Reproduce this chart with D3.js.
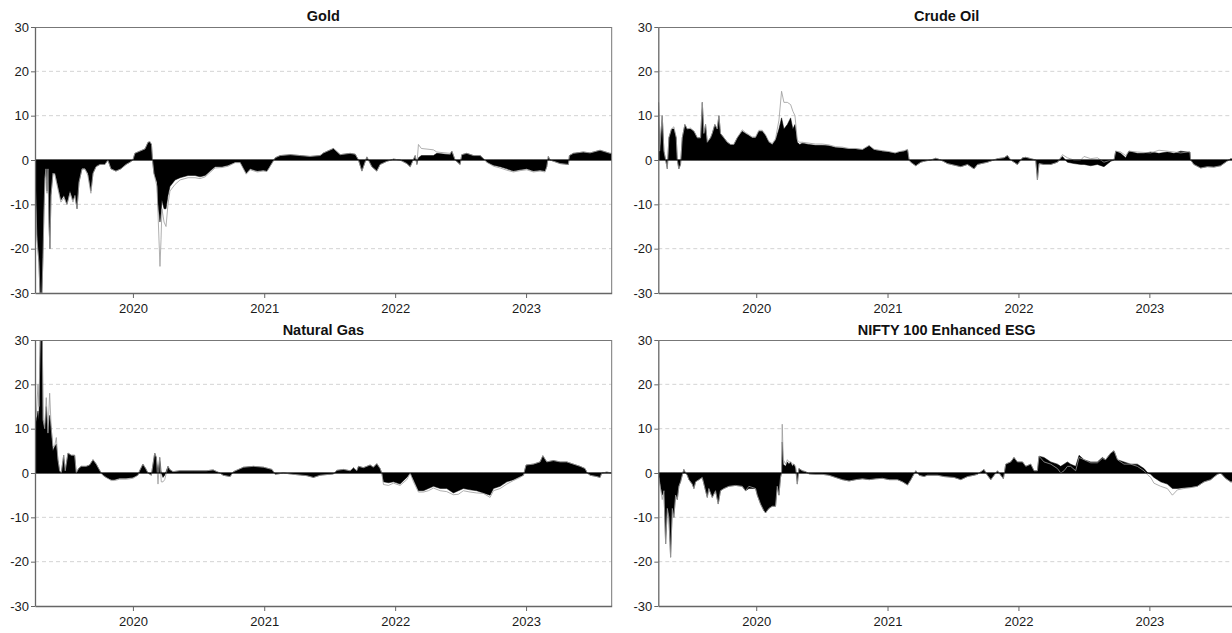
<!DOCTYPE html>
<html>
<head>
<meta charset="utf-8">
<script src="https://cdn.jsdelivr.net/npm/d3@7"></script>
<style>
body{margin:0;background:#fff}
text{font-family:Arial,"Liberation Sans",sans-serif}
</style>
</head>
<body>
<script>
var yearTicks = [2020, 2021, 2022, 2023];
var yTicks = [-30, -20, -10, 0, 10, 20, 30];
var gridTicks = [-20, -10, 10, 20];
var titles = ["Gold", "Crude Oil", "Natural Gas", "NIFTY 100 Enhanced ESG"];
var startYear = 2019.252, endYear = 2023.654;

// rows: [decimal year, filled value, outline value]
var gold = [
[2019.252,-3,-3],[2019.267,-17,-18],[2019.282,-23,-23],[2019.290,-30,-30],[2019.305,-30,-30],
[2019.313,-21,-22],[2019.321,-10,-11],[2019.328,-4,-4],[2019.336,-2,-2],[2019.344,-7,-7.5],
[2019.351,-2,-2],[2019.359,-14,-15],[2019.366,-20,-20],[2019.374,-8,-8],[2019.389,-3,-3],
[2019.405,-3,-3.5],[2019.427,-6,-6.5],[2019.450,-9,-9.5],[2019.473,-8,-8.5],[2019.496,-10,-10],
[2019.519,-7,-7.5],[2019.542,-9,-9.5],[2019.557,-8,-8],[2019.573,-11,-11],[2019.588,-5,-5],
[2019.611,-2,-2],[2019.634,-2,-2],[2019.656,-3,-3.5],[2019.679,-7,-7.5],[2019.695,-3,-3],
[2019.718,-1.5,-1.5],[2019.748,-1,-1],[2019.786,-1,-1],[2019.809,0,0],[2019.832,-2,-2],
[2019.870,-2.5,-2.5],[2019.908,-2,-2],[2019.947,-1,-1],[2019.977,-0.5,-0.5],[2020.000,0,0],
[2020.015,1.5,1.5],[2020.053,2,2],[2020.092,2.5,2.5],[2020.115,4,4],[2020.130,4,4.2],
[2020.141,3.5,3.5],[2020.149,0,0],[2020.160,-3,-3],[2020.183,-5,-6],[2020.191,-10,-12],
[2020.206,-14,-24],[2020.214,-12,-18],[2020.221,-9,-11],[2020.237,-11,-14],[2020.252,-11,-15],
[2020.267,-8,-10],[2020.282,-6,-7],[2020.321,-4.5,-5.5],[2020.359,-4,-4.5],[2020.420,-3.5,-4],
[2020.473,-3.5,-4],[2020.511,-3.8,-4.2],[2020.550,-3.5,-3.8],[2020.588,-2.5,-2.8],[2020.626,-1.5,-1.8],
[2020.679,-1.5,-1.7],[2020.725,-1.2,-1.4],[2020.779,-0.5,-0.6],[2020.817,-0.5,-0.6],[2020.863,-3,-3.2],
[2020.893,-2,-2.2],[2020.947,-2.5,-2.7],[2020.992,-2.3,-2.5],[2021.021,-2.5,-2.6],[2021.084,0.5,0.5],
[2021.122,1,1],[2021.200,1.2,1.2],[2021.275,1,1],[2021.350,0.8,0.8],[2021.427,1,1],
[2021.453,1.6,1.6],[2021.529,2.6,2.6],[2021.580,1.2,1.2],[2021.656,1.5,1.5],[2021.695,1.3,1.3],
[2021.720,0,0],[2021.746,-2.5,-2.5],[2021.784,0.7,0.7],[2021.822,-1.5,-1.5],[2021.860,-2.5,-2.5],
[2021.885,-1,-1],[2021.937,-0.3,-0.3],[2021.987,0.2,0.2],[2022.038,0,0],[2022.089,-0.8,-0.8],
[2022.115,-1.5,-1.5],[2022.153,1,1],[2022.166,-1,-1],[2022.178,0.5,3.5],[2022.200,1,2.6],
[2022.292,1,2.3],[2022.318,1.5,1.8],[2022.420,1.2,1.5],[2022.433,2,2],[2022.458,0,0],
[2022.496,-1,-1],[2022.509,1.2,1.2],[2022.547,1.5,1.5],[2022.598,1,1],[2022.649,1,1],
[2022.687,0,0],[2022.700,-0.5,-0.5],[2022.751,-1.2,-1.4],[2022.802,-1.5,-1.8],[2022.853,-2,-2.3],
[2022.903,-2.5,-2.7],[2022.954,-2.2,-2.4],[2023.005,-2,-2.2],[2023.056,-2.5,-2.7],[2023.107,-2.3,-2.5],
[2023.145,-2.5,-2.7],[2023.158,-1.5,-1.5],[2023.170,0.8,0.8],[2023.183,0,0],[2023.260,-0.8,-0.8],
[2023.323,-1,-1],[2023.331,1,1],[2023.361,1.5,1.5],[2023.437,1.8,1.8],[2023.489,1.6,1.6],
[2023.565,2.2,2.2],[2023.641,1.5,1.5],[2023.654,1.5,1.5]
];

var crude = [
[2019.254,13,13],[2019.262,2,2],[2019.282,10,10],[2019.295,2,2],[2019.308,0,0],
[2019.321,-2,-2],[2019.333,5,5],[2019.353,7,7],[2019.371,7,7.5],[2019.389,5,5],
[2019.397,0,0],[2019.409,-2,-2],[2019.422,-1,-1],[2019.435,5,5],[2019.455,8,8],
[2019.473,7,7],[2019.498,7,7.2],[2019.524,6.5,6.5],[2019.550,5,5],[2019.575,5,5],
[2019.588,13,13],[2019.600,6,6],[2019.613,8,8],[2019.626,4,4],[2019.651,5,5],
[2019.664,6,6],[2019.684,8,8],[2019.702,7,7],[2019.715,10,10],[2019.727,6,6],
[2019.753,5,5],[2019.779,4,4],[2019.804,3.5,3.5],[2019.829,3.5,3.5],[2019.855,5,5],
[2019.893,6.5,6.8],[2019.918,6,6.2],[2019.944,5.5,5.7],[2019.969,5,5.2],[2019.995,5,5.2],
[2020.020,6.5,6.7],[2020.046,6.5,6.7],[2020.071,5.5,5.7],[2020.096,4,4.2],[2020.122,3.5,3.7],
[2020.147,4.5,4.8],[2020.173,7,9],[2020.193,9.5,15.5],[2020.211,7,13],[2020.237,8,13],
[2020.262,9.5,12.5],[2020.279,7,11],[2020.295,8,10],[2020.313,4,4.5],[2020.331,3.5,4],
[2020.351,3.8,4],[2020.402,3.5,3.8],[2020.453,3.3,3.6],[2020.504,3.3,3.6],[2020.554,3.2,3.4],
[2020.605,2.8,3],[2020.656,2.7,2.9],[2020.707,2.5,2.6],[2020.758,2.5,2.6],[2020.809,2.3,2.4],
[2020.860,3.2,3.3],[2020.898,2.3,2.4],[2020.962,2,2.1],[2021.012,1.8,1.9],[2021.058,1.5,1.6],
[2021.090,1.8,1.9],[2021.127,2,2.1],[2021.153,2.3,2.4],[2021.165,0,0],[2021.178,-0.5,-0.5],
[2021.216,-1.3,-1.3],[2021.254,-0.5,-0.5],[2021.292,-0.2,-0.2],[2021.331,0,0],[2021.369,0.4,0.4],
[2021.407,0,0],[2021.458,-0.8,-0.8],[2021.560,-1.5,-1.5],[2021.611,-1,-1],[2021.661,-2,-2],
[2021.687,-1,-1],[2021.763,-0.5,-0.5],[2021.840,0.3,0.3],[2021.890,0.5,0.5],[2021.916,1,1],
[2021.941,0,0],[2021.992,-1,-1],[2022.031,0.5,0.5],[2022.056,0.6,0.6],[2022.094,0.3,0.3],
[2022.132,0,0],[2022.145,-4.5,-4.5],[2022.157,-0.8,-0.8],[2022.195,-1,-1],[2022.247,-1,-1],
[2022.298,-0.5,-0.5],[2022.336,0.8,1.2],[2022.374,-0.5,0.5],[2022.424,-0.8,0],[2022.476,-1,0],
[2022.501,-1,0.8],[2022.552,-1.3,0.3],[2022.603,-1,0.5],[2022.653,-1.5,-0.5],[2022.705,-0.3,0],
[2022.730,0,0],[2022.743,2,2],[2022.781,1.5,1.8],[2022.819,0.5,1],[2022.844,2,2],
[2022.908,1.5,1.8],[2022.959,1.5,1.7],[2023.010,1.8,1.6],[2023.073,1.5,2.2],[2023.137,1.8,2],
[2023.188,1.5,1.8],[2023.239,2,1.6],[2023.290,1.8,1.8],[2023.310,1.8,1.8],[2023.315,0,0],
[2023.340,-1,-1],[2023.392,-1.8,-1.8],[2023.443,-1.5,-1.5],[2023.493,-1.6,-1.6],[2023.544,-1.3,-1.3],
[2023.582,-0.5,-0.5],[2023.621,0.3,0.3],[2023.654,0.3,0.3]
];

var gas = [
[2019.252,10,13],[2019.262,12,13],[2019.275,14,20],[2019.282,12,15],[2019.292,30,30],
[2019.308,30,30],[2019.313,12,12],[2019.326,10,10],[2019.338,15,17],[2019.351,9,9],
[2019.364,13,18],[2019.376,10,10],[2019.389,5,6],[2019.402,6,6],[2019.415,6.5,8],
[2019.427,3,3],[2019.440,0.5,0.5],[2019.453,0,0],[2019.471,4,4],[2019.483,0.5,0.5],
[2019.504,4.5,4.5],[2019.529,4,4],[2019.555,4,4],[2019.567,0,0],[2019.585,1,1],
[2019.605,1.5,1.5],[2019.643,1.5,1.5],[2019.669,1.8,1.8],[2019.695,3,3],[2019.720,2,2],
[2019.738,1,1],[2019.758,0,0],[2019.771,-0.5,-0.5],[2019.796,-1,-1],[2019.834,-1.5,-1.7],
[2019.860,-1.5,-1.7],[2019.898,-1.2,-1.4],[2019.949,-1.2,-1.4],[2020.000,-1,-1.2],[2020.038,-0.5,-0.5],
[2020.051,0.5,0.5],[2020.076,2,2],[2020.097,1,1],[2020.115,0,0],[2020.140,-0.5,-0.5],
[2020.166,4.5,4.5],[2020.178,3.5,3.5],[2020.191,0,-2.5],[2020.204,3.5,3.5],[2020.216,0,-2],
[2020.229,-1,-2],[2020.242,-0.5,-1.5],[2020.267,1.5,1.5],[2020.280,0.8,0.8],[2020.305,0.3,0.3],
[2020.356,0.5,0.5],[2020.458,0.5,0.5],[2020.560,0.5,0.5],[2020.611,0.7,0.7],[2020.662,0,0],
[2020.687,-0.5,-0.5],[2020.740,-0.8,-0.8],[2020.766,0.3,0.3],[2020.842,1.3,1.3],[2020.918,1.5,1.5],
[2020.995,1.3,1.3],[2021.059,0.8,0.8],[2021.084,-0.3,-0.3],[2021.147,0,0],[2021.224,-0.3,-0.3],
[2021.326,-0.6,-0.6],[2021.376,-1,-1],[2021.427,-0.5,-0.5],[2021.529,-0.2,-0.2],[2021.555,0.6,0.6],
[2021.606,0.8,0.8],[2021.656,0.5,0.5],[2021.682,1.2,1.2],[2021.707,0.5,0.5],[2021.720,1.5,1.5],
[2021.758,1.2,1.2],[2021.809,1.8,1.8],[2021.834,1.3,1.3],[2021.860,2.1,2.1],[2021.885,1,1],
[2021.898,0,0],[2021.911,-2,-2.6],[2021.949,-2.2,-2.8],[2021.987,-2,-2.3],[2022.038,-2.5,-2.8],
[2022.089,-1,-1.5],[2022.115,0,0],[2022.140,-1.5,-2],[2022.178,-4,-4.3],[2022.216,-4,-4.3],
[2022.254,-3.5,-4],[2022.293,-3,-3.4],[2022.344,-3.5,-4],[2022.394,-3.5,-4.2],[2022.445,-4.5,-4.9],
[2022.483,-4,-4.8],[2022.521,-3.5,-4],[2022.573,-3.8,-4.3],[2022.623,-4,-4.5],[2022.674,-4.5,-4.6],
[2022.725,-5,-5.5],[2022.751,-3.5,-4],[2022.802,-3,-3.5],[2022.853,-2,-2.5],[2022.904,-1.5,-1.7],
[2022.954,-0.8,-1],[2022.980,-0.5,-0.5],[2023.000,1.8,1.8],[2023.056,2,2],[2023.107,2.5,2.5],
[2023.128,3.9,3.9],[2023.158,2.5,2.5],[2023.209,2.8,2.8],[2023.260,2.5,2.5],[2023.311,2.5,2.5],
[2023.361,2,2],[2023.412,1.5,1.5],[2023.450,1,1],[2023.468,0,0],[2023.489,-0.5,-0.5],
[2023.540,-0.8,-0.8],[2023.565,-1,-1],[2023.578,0,0],[2023.617,0.2,0.2],[2023.654,0,0]
];

var nifty = [
[2019.257,-1,-1],[2019.269,-3,-3.5],[2019.282,-5,-6],[2019.295,-4,-4],[2019.308,-16,-16],
[2019.321,-8,-8],[2019.333,-10,-10],[2019.346,-19,-19],[2019.359,-8,-8],[2019.371,-10,-10],
[2019.384,-5,-5],[2019.397,-6,-6],[2019.409,-3,-3],[2019.422,-2,-2],[2019.435,-0.5,-0.5],
[2019.447,0.8,0.8],[2019.460,0,0],[2019.473,-0.5,-0.5],[2019.486,-1.5,-1.5],[2019.511,-2.5,-2.5],
[2019.524,-3.5,-3.5],[2019.537,-2,-2],[2019.562,-1.5,-1.5],[2019.588,-1,-1],[2019.613,-4,-4],
[2019.626,-5.5,-5.5],[2019.638,-3.5,-3.5],[2019.664,-5.5,-5.5],[2019.689,-4,-4],[2019.710,-7,-7],
[2019.727,-4,-4],[2019.753,-3.5,-3.5],[2019.791,-3,-3],[2019.842,-2.8,-2.8],[2019.893,-3,-3],
[2019.918,-4,-4],[2019.944,-3.5,-3],[2019.995,-3.5,-3.5],[2020.008,-5,-5],[2020.033,-7,-7],
[2020.058,-8.5,-8.5],[2020.071,-9,-9],[2020.096,-8,-8],[2020.122,-7.5,-7.5],[2020.147,-7.5,-7.5],
[2020.160,-3,-3],[2020.173,-5,-5],[2020.185,-1,-1],[2020.193,0,0],[2020.198,7,11],
[2020.206,2,3],[2020.224,1.5,2],[2020.237,2.5,3],[2020.249,2,2.5],[2020.262,2.5,2.5],
[2020.275,1.5,2],[2020.287,2,2],[2020.300,1,1.5],[2020.313,-2.5,-2.5],[2020.325,1,1],
[2020.351,0.5,0.5],[2020.376,0.3,0.3],[2020.402,-0.2,-0.2],[2020.453,-0.3,-0.3],[2020.504,-0.3,-0.3],
[2020.554,-0.5,-0.5],[2020.605,-1,-1],[2020.656,-1.5,-1.5],[2020.707,-1.8,-1.8],[2020.758,-1.5,-1.5],
[2020.809,-1.3,-1.3],[2020.860,-1.5,-1.5],[2020.911,-1.3,-1.3],[2020.962,-1.2,-1.2],[2021.012,-1.5,-1.5],
[2021.076,-1.5,-1.5],[2021.115,-2,-2],[2021.153,-2.7,-2.7],[2021.178,-1.5,-1.5],[2021.216,0.5,0.5],
[2021.241,-0.5,-0.5],[2021.279,-0.8,-0.8],[2021.305,-0.5,-0.5],[2021.382,-0.5,-0.5],[2021.432,-0.8,-0.8],
[2021.508,-1,-1],[2021.560,-1.5,-1.5],[2021.611,-0.8,-0.8],[2021.661,-0.5,-0.5],[2021.687,-0.3,-0.3],
[2021.737,0.8,0.8],[2021.763,-0.5,-0.5],[2021.789,-1.5,-1.5],[2021.814,-0.5,-0.5],[2021.840,0.5,0.5],
[2021.865,-0.5,-0.5],[2021.885,-1.3,-1.3],[2021.903,2,2],[2021.941,2.5,2.5],[2021.966,3.5,3.5],
[2021.992,2.5,2.5],[2022.031,2.5,2.5],[2022.056,1.5,1.5],[2022.094,2,2],[2022.119,0.5,0.5],
[2022.145,0.5,0.5],[2022.157,3.8,3.8],[2022.195,3.5,2.5],[2022.247,2.5,2],[2022.298,2,1],
[2022.323,1.5,0],[2022.348,2,0.5],[2022.374,2.5,1.5],[2022.399,2,1.5],[2022.437,1.5,0.5],
[2022.463,4,3.5],[2022.501,3,3],[2022.552,2.5,2.3],[2022.603,2.5,2.3],[2022.641,3.5,3.3],
[2022.666,3,3],[2022.705,4.5,4.5],[2022.730,5,5],[2022.756,3,3],[2022.806,2.5,2],
[2022.857,2,2],[2022.908,2,1.5],[2022.959,1,0.5],[2022.989,0,-0.5],[2023.010,-0.3,-1],
[2023.035,-1,-2.3],[2023.086,-2,-3],[2023.137,-2.5,-3.5],[2023.176,-3.5,-5],[2023.214,-3.5,-3.8],
[2023.264,-3.3,-3.5],[2023.315,-3.2,-3.3],[2023.366,-3,-3],[2023.417,-2,-2],[2023.468,-1.5,-1.5],
[2023.519,-0.3,-0.3],[2023.544,0,0],[2023.582,-1.2,-1.2],[2023.621,-2,-2],[2023.654,-2,-2]
];

var series = [gold, crude, gas, nifty];

function toDate(t) {
  var y = Math.floor(t)
  var a = Date.UTC(y, 0, 1), b = Date.UTC(y + 1, 0, 1)
  return new Date(a + (t - y) * (b - a))
}

var W = 1232, H = 633
var pw = 576.7, ph = 266
var origins = [[35, 27], [658.3, 27], [35, 340], [658.3, 340]]

var svg = d3.select("body").append("svg")
.attr("width", W)
.attr("height", H)
.style("display", "block")

var x = d3.scaleUtc()
.domain([toDate(startYear), toDate(endYear)])
.range([0, pw])
var y = d3.scaleLinear()
.domain([-30, 30])
.range([ph, 0])

series.forEach(function(data, i) {
  var g = svg.append("g")
  .attr("transform", "translate(" + origins[i][0] + "," + origins[i][1] + ")")

  // dashed grid
  g.selectAll(".grid")
  .data(gridTicks)
  .enter().append("line")
  .attr("x1", 0).attr("x2", pw)
  .attr("y1", function(d) { return y(d) })
  .attr("y2", function(d) { return y(d) })
  .attr("stroke", "#d4d4d4")
  .attr("stroke-width", 1)
  .attr("stroke-dasharray", "4,3")

  g.append("clipPath").attr("id", "clip" + i)
  .append("rect").attr("width", pw).attr("height", ph)

  var plot = g.append("g").attr("clip-path", "url(#clip" + i + ")")

  var area = d3.area()
  .x(function(d) { return x(toDate(d[0])) })
  .y0(y(0))
  .y1(function(d) { return y(d[1]) })
  plot.append("path")
  .datum(data)
  .attr("d", area)
  .attr("fill", "#000")
  .attr("stroke", "#000")
  .attr("stroke-width", 0.5)

  var line = d3.line()
  .x(function(d) { return x(toDate(d[0])) })
  .y(function(d) { return y(d[2]) })
  plot.append("path")
  .datum(data)
  .attr("d", line)
  .attr("fill", "none")
  .attr("stroke", "#9a9a9a")
  .attr("stroke-width", 0.8)

  // zero line
  g.append("line")
  .attr("x1", 0).attr("x2", pw)
  .attr("y1", y(0)).attr("y2", y(0))
  .attr("stroke", "#000")
  .attr("stroke-width", 1.2)

  // frame top/right
  g.append("line")
  .attr("x1", 0).attr("x2", pw).attr("y1", 0.5).attr("y2", 0.5)
  .attr("stroke", "#777").attr("stroke-width", 1)
  g.append("line")
  .attr("x1", pw).attr("x2", pw).attr("y1", 0).attr("y2", ph)
  .attr("stroke", "#777").attr("stroke-width", 1)

  var yAxis = g.append("g")
  .call(d3.axisLeft(y).tickValues(yTicks)
    .tickFormat(function(d) { return String(d) })
    .tickSize(4).tickSizeOuter(0).tickPadding(2))
  var xAxis = g.append("g")
  .attr("transform", "translate(0," + ph + ")")
  .call(d3.axisBottom(x)
    .tickValues(yearTicks.map(function(v) { return new Date(Date.UTC(v, 0, 1)) }))
    .tickFormat(d3.utcFormat("%Y"))
    .tickSize(5).tickSizeOuter(0).tickPadding(6))

  ;[yAxis, xAxis].forEach(function(ax) {
    ax.select(".domain").attr("stroke", "#666").attr("stroke-width", 1.3)
    ax.selectAll(".tick line").attr("stroke", "#666")
    ax.selectAll(".tick text")
    .attr("fill", "#1a1a1a")
    .style("font-size", "13px")
    .style("font-family", "Arial, 'Liberation Sans', sans-serif")
  })

  g.append("text")
  .attr("x", pw / 2)
  .attr("y", i < 2 ? -6 : -5.5)
  .attr("text-anchor", "middle")
  .style("font-size", "14.5px")
  .style("font-weight", "bold")
  .attr("fill", "#111")
  .text(titles[i])
})
</script>
</body>
</html>
